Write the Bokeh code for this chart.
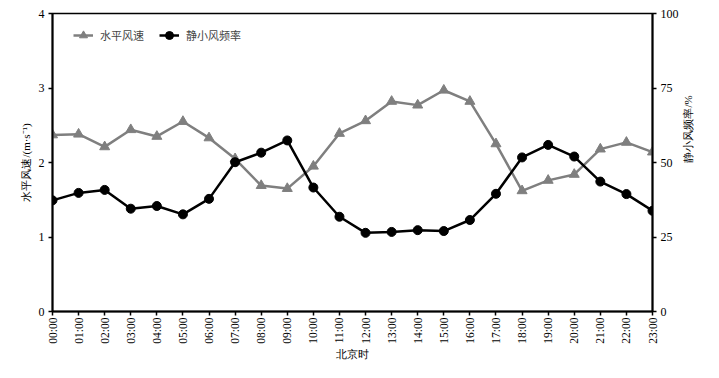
import math
from bokeh.plotting import figure
from bokeh.models import Range1d, LinearAxis, FixedTicker, Legend, LegendItem
from bokeh.embed import file_html
from bokeh.resources import INLINE

hours = ["00:00", "01:00", "02:00", "03:00", "04:00", "05:00", "06:00", "07:00",
         "08:00", "09:00", "10:00", "11:00", "12:00", "13:00", "14:00", "15:00",
         "16:00", "17:00", "18:00", "19:00", "20:00", "21:00", "22:00", "23:00"]
wind_speed = [2.37, 2.38, 2.21, 2.44, 2.35, 2.55, 2.33, 2.05, 1.69, 1.65, 1.95, 2.39,
              2.56, 2.82, 2.77, 2.97, 2.82, 2.25, 1.62, 1.76, 1.84, 2.18, 2.27, 2.14]
calm_freq = [37.3, 39.8, 40.8, 34.5, 35.4, 32.6, 37.8, 50.1, 53.3, 57.4, 41.6, 31.8,
             26.4, 26.7, 27.3, 27.0, 30.7, 39.5, 51.7, 55.9, 52.0, 43.6, 39.4, 33.8]
left_ticks = [0, 1, 2, 3, 4]
right_ticks = [0, 25, 50, 75, 100]

x = list(range(len(hours)))

SERIF = "Liberation Serif"
CJK = "Noto Sans CJK SC"

p = figure(width=703, height=362, output_backend="svg", toolbar_location=None,
           x_range=Range1d(0, len(hours) - 1), y_range=Range1d(0, 4),
           min_border_left=52, min_border_right=51, min_border_top=13, min_border_bottom=46)
p.extra_y_ranges = {"freq": Range1d(0, 100)}
p.background_fill_color = "white"
p.border_fill_color = "white"
p.outline_line_color = "black"
p.outline_line_width = 1.5
p.xgrid.visible = False
p.ygrid.visible = False

def style_axis(ax):
    ax.axis_line_width = 2
    ax.axis_line_color = "black"
    ax.major_tick_line_color = "black"
    ax.major_tick_line_width = 1.5
    ax.major_tick_out = 4
    ax.major_tick_in = 0
    ax.minor_tick_line_color = None
    ax.major_label_text_font = SERIF
    ax.major_label_text_font_size = "12px"
    ax.major_label_text_color = "black"
    ax.axis_label_text_font = SERIF
    ax.axis_label_text_font_size = "11px"
    ax.axis_label_text_font_style = "normal"
    ax.axis_label_text_color = "black"

xa = p.xaxis[0]
style_axis(xa)
xa.ticker = FixedTicker(ticks=x)
xa.major_label_overrides = {i: h for i, h in zip(x, hours)}
xa.major_label_orientation = math.pi / 2
xa.major_label_text_font_size = "11.5px"
xa.major_label_standoff = 2
xa.axis_label = "北京时"
xa.axis_label_standoff = 1

ya = p.yaxis[0]
style_axis(ya)
ya.ticker = FixedTicker(ticks=left_ticks)
ya.major_label_standoff = 4
ya.axis_label = "水平风速/(m·s⁻¹)"
ya.axis_label_standoff = 4

ra = LinearAxis(y_range_name="freq")
style_axis(ra)
ra.ticker = FixedTicker(ticks=right_ticks)
ra.major_label_standoff = 4
ra.axis_label = "静小风频率/%"
ra.axis_label_standoff = 6
ra.axis_label_orientation = math.pi / 2
p.add_layout(ra, "right")

gray = "#7f7f7f"
l1 = p.line(x, wind_speed, line_color=gray, line_width=2.5)
s1 = p.scatter(x, wind_speed, marker="triangle", size=10, fill_color=gray, line_color=gray)
l2 = p.line(x, calm_freq, y_range_name="freq", line_color="black", line_width=2.5)
s2 = p.scatter(x, calm_freq, y_range_name="freq", marker="circle", size=9,
               fill_color="black", line_color="black")

legend = Legend(items=[LegendItem(label="水平风速", renderers=[l1, s1]),
                       LegendItem(label="静小风频率", renderers=[l2, s2])],
                location=(21, 266), orientation="horizontal")
legend.border_line_color = None
legend.background_fill_alpha = 0
legend.label_text_font = CJK
legend.label_text_font_size = "11px"
legend.glyph_width = 20
legend.glyph_height = 20
legend.label_height = 20
legend.spacing = 15
legend.label_standoff = 7
legend.margin = 0
legend.padding = 0
p.add_layout(legend, "center")

open("out.html", "w").write(file_html(p, INLINE))
